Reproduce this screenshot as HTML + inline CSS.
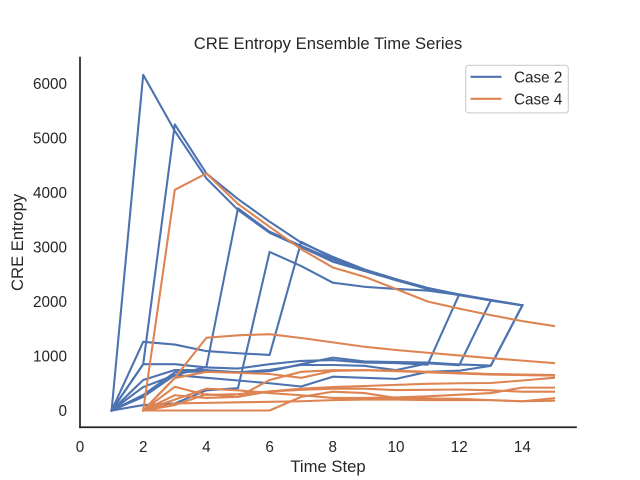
<!DOCTYPE html>
<html>
<head>
<meta charset="utf-8">
<title>CRE Entropy Ensemble Time Series</title>
<style>
html,body{margin:0;padding:0;background:#fff;}
svg{display:block;font-family:"Liberation Sans",Arial,sans-serif;fill:#262626;}
</style>
</head>
<body>
<svg id="chart" xmlns="http://www.w3.org/2000/svg" width="640" height="480" viewBox="0 0 640 480">
  <rect x="0" y="0" width="640" height="480" fill="#ffffff"/>
  <g id="series-layer" fill="none" stroke-width="2.08" stroke-linejoin="round" stroke-linecap="square"></g>
  <line x1="80" y1="57.6" x2="80" y2="427.2" stroke="#262626" stroke-width="1.74" stroke-linecap="square"/>
  <line x1="80" y1="427.2" x2="576" y2="427.2" stroke="#262626" stroke-width="1.74" stroke-linecap="square"/>
  <g id="tick-layer" font-size="15.28px"></g>
  <text x="328" y="49" text-anchor="middle" font-size="16.67px" fill="#262626">CRE Entropy Ensemble Time Series</text>
  <text x="328" y="472" text-anchor="middle" font-size="16.67px" fill="#262626">Time Step</text>
  <text transform="translate(23,242.4) rotate(-90)" text-anchor="middle" font-size="16.67px" fill="#262626">CRE Entropy</text>
  <g>
    <rect x="465.7" y="65.3" width="102.6" height="47.6" rx="2.8" fill="#ffffff" fill-opacity="0.8" stroke="#cccccc" stroke-width="1.1"/>
    <line x1="470.5" y1="76.8" x2="501.5" y2="76.8" stroke="#4c72b0" stroke-width="2.08"/>
    <text x="514" y="82.3" font-size="15.28px" fill="#262626">Case 2</text>
    <line x1="470.5" y1="98.8" x2="501.5" y2="98.8" stroke="#dd8452" stroke-width="2.08"/>
    <text x="514" y="104.3" font-size="15.28px" fill="#262626">Case 4</text>
  </g>
</svg>
<script>
const xTickLabels = [0, 2, 4, 6, 8, 10, 12, 14];
const yTickLabels = [0, 1000, 2000, 3000, 4000, 5000, 6000];

const case2StartStep = 1;
const case2Run1 = [0, 6160, 5130, 4260, 3680, 3260, 3000, 2730, 2560, 2390, 2230, 2120, 2020, 1930];
const case2Run2 = [0, 850, 5250, 4350, 3880, 3465, 3080, 2820, 2590, 2410, 2250, 2130, 2030, 1930];
const case2Run3 = [0, 250, 650, 800, 3710, 3280, 3020, 2770, 2570, 2400, 2240, 2120, 2020, 1930];
const case2Run4 = [0, 100, 130, 370, 410, 2910, 2650, 2345, 2270, 2230, 2200, 2120, 2020, 1930];
const case2Run5 = [0, 1260, 1210, 1090, 1050, 1020, 3095, 2800, 2580, 2400, 2240, 2120, 2020, 1930];
const case2Run6 = [0, 850, 850, 790, 770, 850, 910, 925, 880, 870, 840, 2130, 2020, 1930];
const case2Run7 = [0, 560, 743, 740, 700, 745, 835, 835, 820, 740, 865, 830, 2020, 1930];
const case2Run8 = [0, 430, 650, 600, 550, 500, 440, 620, 600, 580, 710, 730, 820, 1930];
const case2Run9 = [0, 285, 700, 720, 700, 720, 850, 970, 900, 890, 880, 845, 825, 1930];
const case2Runs = [case2Run1, case2Run2, case2Run3, case2Run4, case2Run5, case2Run6, case2Run7, case2Run8, case2Run9];

const case4StartStep = 2;
const case4Run1 = [0, 4050, 4350, 3790, 3370, 2960, 2625, 2455, 2230, 2000, 1870, 1750, 1640, 1550];
const case4Run2 = [0, 600, 1335, 1380, 1400, 1330, 1250, 1170, 1110, 1060, 1010, 960, 915, 870];
const case4Run3 = [0, 100, 300, 250, 560, 710, 740, 740, 730, 710, 690, 670, 660, 650];
const case4Run4 = [0, 595, 710, 690, 670, 600, 725, 740, 720, 700, 680, 660, 650, 640];
const case4Run5 = [0, 435, 285, 300, 350, 400, 430, 450, 470, 490, 500, 505, 550, 600];
const case4Run6 = [0, 280, 230, 250, 350, 380, 400, 400, 375, 380, 385, 370, 345, 345];
const case4Run7 = [0, 0, 0, 0, 0, 250, 345, 320, 230, 220, 215, 190, 170, 225];
const case4Run8 = [0, 130, 140, 150, 160, 170, 190, 200, 200, 190, 190, 190, 170, 180];
const case4Run9 = [0, 200, 400, 370, 320, 280, 230, 230, 240, 260, 290, 320, 420, 420];
const case4Runs = [case4Run1, case4Run2, case4Run3, case4Run4, case4Run5, case4Run6, case4Run7, case4Run8, case4Run9];

const SVG_NS = 'http://www.w3.org/2000/svg';

function xScale(step) {
  return 80 + step * 31.6;
}
function yScale(value) {
  return 410.5 - value * 0.0545;
}

const seriesLayer = document.getElementById('series-layer');
const tickLayer = document.getElementById('tick-layer');

function drawRuns(runs, startStep, color, caseName) {
  runs.forEach(function (run, runIndex) {
    const pts = run.map(function (v, i) {
      return xScale(startStep + i).toFixed(2) + ',' + yScale(v).toFixed(2);
    }).join(' ');
    const line = document.createElementNS(SVG_NS, 'polyline');
    line.setAttribute('points', pts);
    line.setAttribute('stroke', color);
    
    
    seriesLayer.appendChild(line);
  });
}

drawRuns(case2Runs, case2StartStep, '#4c72b0', 'case-2');
drawRuns(case4Runs, case4StartStep, '#dd8452', 'case-4');

xTickLabels.forEach(function (t) {
  const label = document.createElementNS(SVG_NS, 'text');
  label.setAttribute('x', xScale(t));
  label.setAttribute('y', 452);
  label.setAttribute('text-anchor', 'middle');
  
  
  label.textContent = t;
  tickLayer.appendChild(label);
});

yTickLabels.forEach(function (v) {
  const label = document.createElementNS(SVG_NS, 'text');
  label.setAttribute('x', 67);
  label.setAttribute('y', yScale(v) + 5.5);
  label.setAttribute('text-anchor', 'end');
  
  
  label.textContent = v;
  tickLayer.appendChild(label);
});
</script>
</body>
</html>
